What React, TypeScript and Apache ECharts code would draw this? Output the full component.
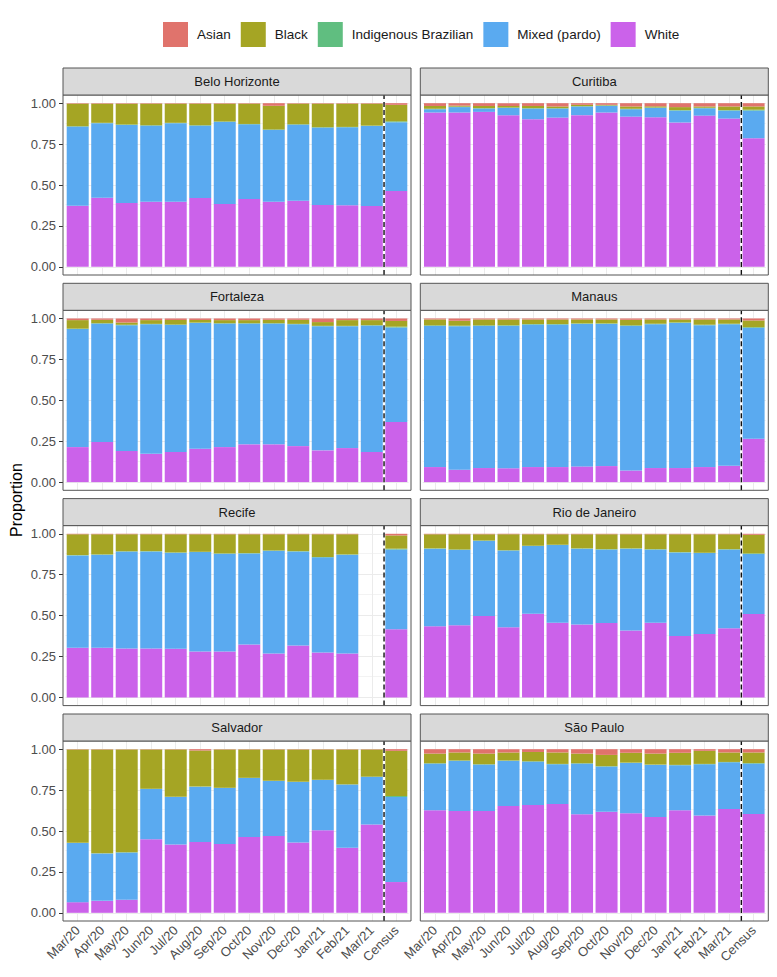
import React, { useEffect, useRef } from 'react';
import * as echarts from 'echarts';

const categories = ['Mar/20', 'Apr/20', 'May/20', 'Jun/20', 'Jul/20', 'Aug/20', 'Sep/20', 'Oct/20', 'Nov/20', 'Dec/20', 'Jan/21', 'Feb/21', 'Mar/21', 'Census'];
const cities = ['Belo Horizonte', 'Curitiba', 'Fortaleza', 'Manaus', 'Recife', 'Rio de Janeiro', 'Salvador', 'São Paulo'];
const races = ['Asian', 'Black', 'Indigenous Brazilian', 'Mixed (pardo)', 'White'];
const raceColors: Record<string, string> = {
  'Asian': '#E0736C',
  'Black': '#A5A524',
  'Indigenous Brazilian': '#60BE80',
  'Mixed (pardo)': '#5AAAF0',
  'White': '#CB62EA',
};
const yTicks = [0, 0.25, 0.5, 0.75, 1];
const yMinorGrid = [0.125, 0.375, 0.625, 0.875];
const censusDivider = 13.5;

// one row per city, in the order of `cities`
const whiteShare = [
  [0.373, 0.422, 0.390, 0.398, 0.398, 0.420, 0.384, 0.414, 0.398, 0.404, 0.378, 0.376, 0.371, 0.463],
  [0.943, 0.943, 0.947, 0.927, 0.902, 0.912, 0.927, 0.943, 0.918, 0.914, 0.882, 0.924, 0.906, 0.786],
  [0.214, 0.245, 0.190, 0.173, 0.184, 0.204, 0.214, 0.231, 0.231, 0.220, 0.194, 0.208, 0.184, 0.367],
  [0.092, 0.076, 0.086, 0.084, 0.092, 0.092, 0.096, 0.098, 0.071, 0.086, 0.086, 0.092, 0.100, 0.265],
  [0.303, 0.303, 0.299, 0.299, 0.297, 0.280, 0.280, 0.323, 0.268, 0.317, 0.274, 0.268, null, 0.417],
  [0.435, 0.441, 0.498, 0.429, 0.512, 0.457, 0.445, 0.455, 0.409, 0.457, 0.376, 0.388, 0.423, 0.510],
  [0.065, 0.073, 0.080, 0.449, 0.418, 0.433, 0.420, 0.463, 0.469, 0.429, 0.504, 0.398, 0.539, 0.188],
  [0.627, 0.622, 0.622, 0.653, 0.659, 0.665, 0.602, 0.618, 0.608, 0.586, 0.627, 0.594, 0.635, 0.604],
];
const mixedShare = [
  [0.484, 0.456, 0.477, 0.465, 0.480, 0.443, 0.502, 0.457, 0.439, 0.465, 0.473, 0.477, 0.490, 0.421],
  [0.020, 0.033, 0.020, 0.044, 0.065, 0.055, 0.053, 0.041, 0.045, 0.057, 0.073, 0.045, 0.049, 0.169],
  [0.721, 0.724, 0.769, 0.792, 0.777, 0.769, 0.755, 0.738, 0.738, 0.745, 0.759, 0.745, 0.773, 0.578],
  [0.863, 0.877, 0.869, 0.871, 0.871, 0.871, 0.871, 0.869, 0.884, 0.879, 0.887, 0.867, 0.865, 0.678],
  [0.565, 0.569, 0.593, 0.593, 0.587, 0.608, 0.598, 0.557, 0.628, 0.575, 0.582, 0.604, null, 0.487],
  [0.474, 0.461, 0.459, 0.469, 0.413, 0.474, 0.464, 0.449, 0.500, 0.447, 0.510, 0.494, 0.481, 0.366],
  [0.362, 0.290, 0.289, 0.308, 0.290, 0.338, 0.343, 0.361, 0.337, 0.371, 0.308, 0.386, 0.292, 0.520],
  [0.285, 0.307, 0.284, 0.276, 0.265, 0.243, 0.310, 0.276, 0.308, 0.318, 0.275, 0.314, 0.285, 0.308],
];
const indigenousShare = [
  [0.002, 0.002, 0.002, 0.002, 0.002, 0.002, 0.002, 0.002, 0.002, 0.002, 0.002, 0.002, 0.002, 0.005],
  [0.003, 0.003, 0.003, 0.003, 0.003, 0.003, 0.002, 0.002, 0.003, 0.003, 0.003, 0.003, 0.003, 0.005],
  [0.003, 0.002, 0.002, 0.002, 0.002, 0.002, 0.002, 0.002, 0.002, 0.002, 0.002, 0.002, 0.002, 0.005],
  [0.003, 0.003, 0.003, 0.003, 0.003, 0.003, 0.003, 0.003, 0.003, 0.003, 0.003, 0.003, 0.003, 0.004],
  [0.002, 0.002, 0.002, 0.002, 0.002, 0.002, 0.002, 0.002, 0.002, 0.002, 0.002, 0.002, null, 0.005],
  [0.002, 0.002, 0.002, 0.002, 0.002, 0.002, 0.002, 0.002, 0.002, 0.002, 0.002, 0.002, 0.002, 0.004],
  [0.001, 0.001, 0.001, 0.001, 0.001, 0.001, 0.001, 0.001, 0.001, 0.001, 0.001, 0.001, 0.001, 0.006],
  [0.002, 0.002, 0.002, 0.002, 0.002, 0.002, 0.002, 0.002, 0.002, 0.002, 0.002, 0.002, 0.002, 0.003],
];
const blackShare = [
  [0.138, 0.117, 0.128, 0.132, 0.117, 0.132, 0.109, 0.124, 0.145, 0.126, 0.144, 0.142, 0.134, 0.101],
  [0.017, 0.006, 0.013, 0.009, 0.013, 0.010, 0.008, 0.004, 0.014, 0.007, 0.018, 0.008, 0.022, 0.020],
  [0.052, 0.021, 0.014, 0.023, 0.028, 0.016, 0.019, 0.019, 0.021, 0.025, 0.023, 0.035, 0.031, 0.035],
  [0.036, 0.030, 0.036, 0.036, 0.028, 0.028, 0.024, 0.024, 0.034, 0.026, 0.018, 0.032, 0.026, 0.041],
  [0.127, 0.123, 0.103, 0.103, 0.111, 0.107, 0.117, 0.115, 0.099, 0.103, 0.139, 0.123, null, 0.081],
  [0.086, 0.093, 0.038, 0.097, 0.070, 0.064, 0.086, 0.091, 0.086, 0.091, 0.109, 0.113, 0.091, 0.114],
  [0.570, 0.634, 0.628, 0.240, 0.289, 0.220, 0.234, 0.173, 0.191, 0.197, 0.185, 0.213, 0.166, 0.276],
  [0.059, 0.049, 0.065, 0.049, 0.057, 0.070, 0.059, 0.069, 0.060, 0.067, 0.074, 0.080, 0.058, 0.065],
];
const asianShare = [
  [0.003, 0.003, 0.003, 0.003, 0.003, 0.003, 0.003, 0.003, 0.016, 0.003, 0.003, 0.003, 0.003, 0.010],
  [0.017, 0.015, 0.017, 0.017, 0.017, 0.020, 0.010, 0.010, 0.020, 0.019, 0.024, 0.020, 0.020, 0.020],
  [0.010, 0.008, 0.025, 0.010, 0.009, 0.009, 0.010, 0.010, 0.008, 0.008, 0.022, 0.010, 0.010, 0.015],
  [0.006, 0.014, 0.006, 0.006, 0.006, 0.006, 0.006, 0.006, 0.008, 0.006, 0.006, 0.006, 0.006, 0.012],
  [0.003, 0.003, 0.003, 0.003, 0.003, 0.003, 0.003, 0.003, 0.003, 0.003, 0.003, 0.003, null, 0.010],
  [0.003, 0.003, 0.003, 0.003, 0.003, 0.003, 0.003, 0.003, 0.003, 0.003, 0.003, 0.003, 0.003, 0.006],
  [0.002, 0.002, 0.002, 0.002, 0.002, 0.008, 0.002, 0.002, 0.002, 0.002, 0.002, 0.002, 0.002, 0.010],
  [0.027, 0.020, 0.027, 0.020, 0.017, 0.020, 0.027, 0.035, 0.022, 0.027, 0.022, 0.010, 0.020, 0.020],
];

// ---- layout (pixels) ----
const FONT = '"Liberation Sans", Arial, Helvetica, sans-serif';
const COL_LEFT = [63, 420.3];
const ROW_TOP = [95, 310.3, 525.6, 741];
const PANEL_W = 348;
const PANEL_H = 180;
const STRIP_H = 27;
const EXPAND_X = 2.45; // ggplot discrete expansion beyond category bands
const BORDER = '#555555';
const GRID_COLOR = '#EBEBEB';

export default function App() {
  const ref = useRef<HTMLDivElement>(null);

  useEffect(() => {
    if (!ref.current) return;
    const chart = echarts.init(ref.current, undefined, { renderer: 'svg' });

    const grids: any[] = [];
    const xAxes: any[] = [];
    const yAxes: any[] = [];
    const series: any[] = [];
    const graphics: any[] = [];

    const stackOrder = [
      { name: 'White', values: whiteShare },
      { name: 'Mixed (pardo)', values: mixedShare },
      { name: 'Indigenous Brazilian', values: indigenousShare },
      { name: 'Black', values: blackShare },
      { name: 'Asian', values: asianShare },
    ];

    cities.forEach((city, c) => {
      const col = c % 2;
      const row = Math.floor(c / 2);
      const panelLeft = COL_LEFT[col];
      const panelTop = ROW_TOP[row];
      const isBottom = row === 3;
      const isLeft = col === 0;

      grids.push({
        left: panelLeft + EXPAND_X,
        top: panelTop,
        width: PANEL_W - 2 * EXPAND_X,
        height: PANEL_H,
        containLabel: false,
      });

      xAxes.push({
        type: 'category',
        gridIndex: c,
        data: categories,
        boundaryGap: true,
        axisLine: { show: false },
        axisTick: {
          show: isBottom,
          alignWithLabel: true,
          length: 4,
          lineStyle: { color: '#333333', width: 1 },
        },
        axisLabel: {
          show: isBottom,
          interval: 0,
          rotate: 45,
          margin: 7,
          color: '#4D4D4D',
          fontSize: 13,
          fontFamily: FONT,
        },
        splitLine: { show: false },
      });
      xAxes.push({
        type: 'value',
        gridIndex: c,
        min: 0.5,
        max: 14.5,
        show: false,
        splitLine: { show: false },
      });

      yAxes.push({
        type: 'value',
        gridIndex: c,
        min: -0.05,
        max: 1.05,
        offset: EXPAND_X,
        axisLine: { show: false },
        axisTick: {
          show: isLeft,
          customValues: yTicks,
          length: 4,
          lineStyle: { color: '#333333', width: 1 },
        },
        axisLabel: {
          show: isLeft,
          customValues: yTicks,
          formatter: (v: number) => v.toFixed(2),
          margin: 7,
          color: '#4D4D4D',
          fontSize: 13,
          fontFamily: FONT,
        },
        splitLine: { show: false },
      });

      // background grid lines
      series.push({
        type: 'line',
        xAxisIndex: c * 2 + 1,
        yAxisIndex: c,
        data: [],
        silent: true,
        z: 1,
        markLine: {
          silent: true,
          z: 1,
          symbol: ['none', 'none'],
          label: { show: false },
          emphasis: { disabled: true },
          lineStyle: { color: GRID_COLOR, width: 1, type: 'solid' },
          data: [
            ...categories.map((_, j) => ({ xAxis: j + 1 })),
            ...yTicks.map((v) => ({ yAxis: v })),
            ...yMinorGrid.map((v) => ({ yAxis: v, lineStyle: { color: GRID_COLOR, width: 0.6, type: 'solid' } })),
          ],
        },
      });

      stackOrder.forEach((s) => {
        series.push({
          type: 'bar',
          name: s.name,
          stack: 'city' + c,
          xAxisIndex: c * 2,
          yAxisIndex: c,
          barWidth: 22,
          itemStyle: { color: raceColors[s.name] },
          emphasis: { disabled: true },
          data: s.values[c].map((v) => (v == null ? '-' : v)),
          z: 2,
        });
      });

      // dashed divider before Census
      series.push({
        type: 'line',
        xAxisIndex: c * 2 + 1,
        yAxisIndex: c,
        data: [
          [censusDivider, -0.05],
          [censusDivider, 1.05],
        ],
        symbol: 'none',
        silent: true,
        z: 10,
        lineStyle: { color: '#111111', width: 1.4, type: [5, 3] },
      });

      // panel frame
      graphics.push({
        type: 'rect',
        shape: { x: panelLeft, y: panelTop, width: PANEL_W, height: PANEL_H },
        style: { fill: 'none', stroke: BORDER, lineWidth: 1 },
        z: 100,
        silent: true,
      });
      // strip
      graphics.push({
        type: 'rect',
        shape: { x: panelLeft, y: panelTop - STRIP_H, width: PANEL_W, height: STRIP_H },
        style: { fill: '#D9D9D9', stroke: BORDER, lineWidth: 1 },
        z: 100,
        silent: true,
      });
      graphics.push({
        type: 'text',
        x: panelLeft + PANEL_W / 2,
        y: panelTop - STRIP_H / 2,
        style: {
          text: city,
          fill: '#1A1A1A',
          font: `13px ${FONT}`,
          align: 'center',
          verticalAlign: 'middle',
        },
        z: 101,
        silent: true,
      });
    });

    graphics.push({
      type: 'text',
      x: 16,
      y: 500,
      rotation: Math.PI / 2,
      style: {
        text: 'Proportion',
        fill: '#000000',
        font: `16px ${FONT}`,
        align: 'center',
        verticalAlign: 'middle',
      },
      z: 101,
      silent: true,
    });

    chart.setOption({
      animation: false,
      backgroundColor: '#FFFFFF',
      textStyle: { fontFamily: FONT },
      legend: {
        data: races,
        top: 17,
        left: 158,
        icon: 'rect',
        itemWidth: 25,
        itemHeight: 25,
        itemGap: 10,
        selectedMode: false,
        textStyle: { fontSize: 13.5, color: '#1A1A1A', fontFamily: FONT, padding: [0, 0, 0, 4] },
      },
      grid: grids,
      xAxis: xAxes,
      yAxis: yAxes,
      series,
      graphic: graphics,
    });

    return () => {
      chart.dispose();
    };
  }, []);

  return (
    <div
      ref={ref}
      style={{ position: 'absolute', left: 0, top: 0, width: 777, height: 977 }}
    />
  );
}
